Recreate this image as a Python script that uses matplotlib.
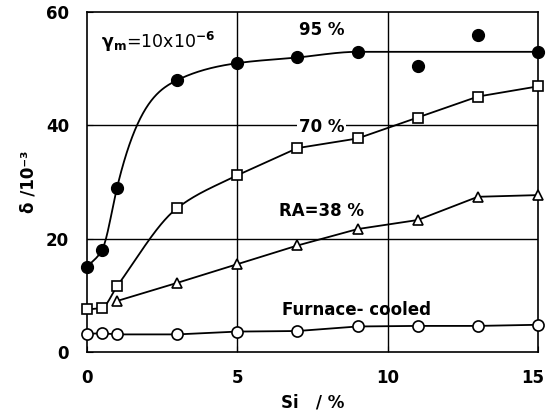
import numpy as np
import matplotlib
matplotlib.use("Agg")
import matplotlib.pyplot as plt
from matplotlib.transforms import ScaledTranslation

plt.rcParams['font.family'] = ['DejaVu Sans']
plt.rcParams['mathtext.default'] = 'bf'

# ---- data ----
si = [0, 0.5, 1, 3, 5, 7, 9, 11, 13, 15]
ra95 = [15, 18, 29, 48, 51, 52, 53, 50.5, 56, 53]
ra70 = [7.5, 7.8, 11.6, 25.4, 31.2, 36, 37.7, 41.4, 45.1, 46.9]
si38 = [1, 3, 5, 7, 9, 11, 13, 15]
ra38 = [9, 12.2, 15.5, 18.8, 21.7, 23.3, 27.4, 27.7]
furnace = [3.2, 3.3, 3.1, 3.1, 3.6, 3.7, 4.5, 4.6, 4.6, 4.8]
# points the smooth 95% curve passes through (11 and 13 are off-curve)
fit95_idx = [0, 1, 2, 3, 4, 5, 6, 9]
# 70% curve is smooth up to this index, straight segments after
smooth70_end = 4

xticks = [0, 5, 10, 15]
yticks = [0, 20, 40, 60]


def pchip(x, y, xn, steep=None):
    """Monotone cubic; `steep` = knot index whose tangent follows the steeper side."""
    x = np.asarray(x, float); y = np.asarray(y, float)
    h = np.diff(x); d = np.diff(y) / h
    n = len(x); m = np.zeros(n)
    for k in range(1, n - 1):
        if d[k - 1] * d[k] > 0:
            w1 = 2 * h[k] + h[k - 1]; w2 = h[k] + 2 * h[k - 1]
            m[k] = (w1 + w2) / (w1 / d[k - 1] + w2 / d[k])
    m[0] = d[0]; m[-1] = d[-1]
    if steep is not None:
        k = steep
        m[k] = min(max(d[k - 1], d[k]), 2.8 * min(d[k - 1], d[k]))
        m[k + 1] = min(m[k + 1], d[k])
    out = np.empty_like(xn)
    for i, xv in enumerate(xn):
        k = min(max(np.searchsorted(x, xv) - 1, 0), n - 2)
        t = (xv - x[k]) / h[k]
        h00 = 2*t**3 - 3*t**2 + 1; h10 = t**3 - 2*t**2 + t
        h01 = -2*t**3 + 3*t**2; h11 = t**3 - t**2
        out[i] = h00*y[k] + h10*h[k]*m[k] + h01*y[k+1] + h11*h[k]*m[k+1]
    return out


fig = plt.figure(figsize=(5.47, 4.2), dpi=100)
ax = fig.add_axes([0.159, 0.162, 0.8245, 0.809])
ax.set_xlim(0, 15)
ax.set_ylim(0, 60)

for xv in [5, 10]:
    ax.axvline(xv, color='black', lw=1.0, zorder=1)
for yv in [20, 40]:
    ax.axhline(yv, color='black', lw=1.0, zorder=1)

lw = 1.3
# 95 %
xs95 = [si[i] for i in fit95_idx]; ys95 = [ra95[i] for i in fit95_idx]
xn = np.linspace(0, 15, 500)
ax.plot(xn, pchip(xs95, ys95, xn, steep=2), color='black', lw=lw, zorder=2)
ax.plot(si, ra95, 'o', ms=8.5, mfc='black', mec='black', zorder=4, clip_on=False)
# 70 %
xa = np.linspace(0, si[smooth70_end], 200)
ya = pchip(si[:smooth70_end + 2], ra70[:smooth70_end + 2], xa)
xcurve = np.concatenate([xa, si[smooth70_end + 1:]])
ycurve = np.concatenate([ya, ra70[smooth70_end + 1:]])
ax.plot(xcurve, ycurve, color='black', lw=lw, zorder=2)
ax.plot(si, ra70, 's', ms=6.5, mfc='white', mec='black', mew=1.2, zorder=4, clip_on=False)
# 38 %
ax.plot(si38, ra38, '^', ls='-', color='black', lw=lw, ms=7.5, mfc='white', mec='black', mew=1.2,
        zorder=3, clip_on=False)
# furnace cooled
ax.plot(si, furnace, 'o', ls='-', color='black', lw=lw, ms=8, mfc='white', mec='black', mew=1.2,
        zorder=3, clip_on=False)

tkw = dict(fontsize=12, fontweight='bold')
bb = dict(facecolor='white', edgecolor='none', pad=1)
ax.text(0.45, 54.8, r"$\gamma_{m}$=10x10$^{-6}$", fontsize=12.5, ha='left', va='center', zorder=5)
ax.text(7.8, 56.9, "95 %", ha='center', va='center', zorder=5, **tkw)
ax.text(7.8, 39.7, "70 %", ha='center', va='center', zorder=5, bbox=bb, **tkw)
ax.text(7.8, 24.9, "RA=38 %", ha='center', va='center', zorder=5, **tkw)
ax.text(8.95, 7.4, "Furnace- cooled", ha='center', va='center', zorder=5, **tkw)

ax.set_xticks(xticks)
ax.set_yticks(yticks)
ax.set_xticklabels([str(v) for v in xticks], fontsize=12, fontweight='bold')
ax.set_yticklabels([str(v) for v in yticks], fontsize=12, fontweight='bold')
ax.tick_params(axis='x', direction='in', length=4, pad=12)
ax.tick_params(axis='y', direction='in', length=4, pad=13)
# nudge the last x tick label inwards so it stays inside the figure
last = ax.get_xticklabels()[-1]
last.set_transform(last.get_transform() + ScaledTranslation(-5 / 100, 0, fig.dpi_scale_trans))
for s in ax.spines.values():
    s.set_linewidth(1.2)

ax.set_xlabel("Si   / %", fontsize=12, fontweight='bold', labelpad=5)
ax.set_ylabel("δ /10⁻³", fontsize=12, fontweight='bold', labelpad=6)

fig.savefig("out.png", dpi=100)
